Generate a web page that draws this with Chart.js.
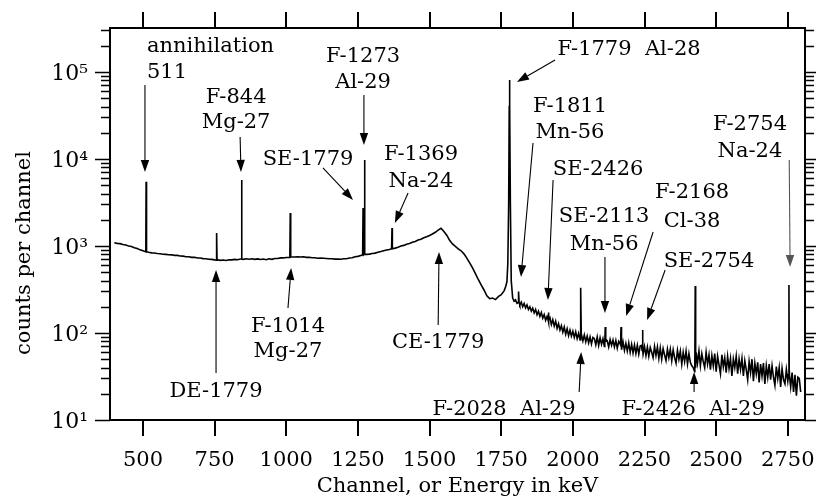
<!DOCTYPE html>
<html>
<head>
<meta charset="utf-8">
<script src="https://cdn.jsdelivr.net/npm/chart.js@4/dist/chart.umd.min.js"></script>
<style>
  html, body { margin: 0; padding: 0; background: #fff; }
  #wrap { width: 816px; height: 499px; position: relative; }
</style>
</head>
<body>
<div id="wrap"><canvas id="spectrum"></canvas></div>
<script>
// continuum, 400-1760 keV every 10 keV
const lowStart = 400, lowStep = 10;
const lowCounts = [
    1090, 1072, 1064, 1038, 1025, 1000, 988, 955, 934, 902,
    880, 858, 848, 834, 829, 818, 814, 804, 801, 793,
    791, 780, 779, 766, 764, 752, 751, 740, 741, 728,
    727, 715, 714, 703, 702, 692, 694, 684, 691, 682,
    694, 692, 702, 696, 709, 702, 714, 703, 713, 701,
    711, 699, 709, 696, 714, 702, 718, 717, 729, 729,
    738, 740, 746, 748, 753, 746, 751, 739, 741, 731,
    733, 722, 725, 724, 719, 714, 712, 707, 706, 704,
    712, 714, 728, 732, 752, 760, 778, 790, 800, 806,
    818, 828, 846, 862, 880, 898, 913, 928, 945, 966,
    1000, 1016, 1048, 1066, 1104, 1126, 1168, 1196, 1244, 1276,
    1320, 1372, 1436, 1520, 1598, 1470, 1330, 1160, 1055, 990,
    925, 880, 812, 725, 640, 560, 482, 412, 358, 312,
    268, 248, 252, 242, 262, 275, 305
];

// full-energy peak of 1779 keV
const mainPeakEnergy = [1766, 1770, 1773, 1776, 1778, 1779, 1780, 1782, 1785];
const mainPeakCounts = [345, 390, 620, 3000, 40000, 80900, 40000, 3000, 400];

// continuum, 1790-2795 keV every 5 keV
const highStart = 1790, highStep = 5;
const highCounts = [
    252, 232, 240, 219, 233, 210, 226, 200, 218, 194,
    210, 186, 200, 178, 193, 170, 186, 162, 178, 155,
    172, 148, 163, 140, 155, 132, 150, 125, 142, 120,
    137, 113, 128, 108, 121, 102, 117, 97, 112, 93,
    108, 92, 105, 89, 103, 86, 99, 83, 96, 81,
    95, 79, 92, 77, 90, 75, 89, 86, 73, 90,
    72, 88, 74, 86, 70, 85, 81, 69, 84, 72,
    83, 69, 82, 67, 80, 75, 64, 79, 63, 76,
    62, 77, 60, 74, 59, 73, 58, 72, 57, 71,
    72, 57, 70, 55, 69, 54, 68, 60, 52, 70,
    55, 69, 51, 67, 50, 66, 56, 48, 65, 52,
    65, 48, 64, 52, 45, 63, 50, 62, 44, 60,
    47, 62, 44, 58, 46, 42, 40, 36, 60, 45,
    62, 42, 58, 47, 40, 60, 44, 56, 38, 55,
    42, 58, 36, 54, 43, 34, 56, 41, 52, 35,
    54, 39, 51, 32, 50, 40, 54, 34, 50, 38,
    51, 32, 48, 38, 29, 47, 35, 50, 28, 45,
    34, 46, 27, 44, 32, 45, 26, 42, 31, 44,
    29, 42, 31, 25, 41, 30, 40, 24, 39, 29,
    26, 38, 28, 37, 24, 35, 21, 33, 19, 31,
    30, 21
];

// narrow lines on top of the continuum
const peakEnergy = [511, 757, 844, 1014, 1268, 1273, 1369, 1811, 1915, 2028, 2113, 2168, 2243, 2427, 2754];
const peakTop = [5480, 1410, 5740, 2390, 2740, 9750, 1610, 300, 172, 330, 117, 117, 108, 347, 356];
const peakFoot = [860, 688, 708, 748, 792, 800, 930, 224, 142, 90, 79, 73, 63, 40, 33];

const xTicks = [500, 750, 1000, 1250, 1500, 1750, 2000, 2250, 2500, 2750];
const yTicks = [10, 100, 1000, 10000, 100000];
const yTickLabels = ['10¹', '10²', '10³', '10⁴', '10⁵'];

// labels: x in keV, rows/arrow ends as log10(counts)
const notes = [
    {lines: ['annihilation', '511'], x: 514, y: [5.230, 4.931], align: 'left', from: [507, 4.851], to: [507, 3.851]},
    {lines: ['F-844', 'Mg-27'], x: 825, y: [4.644, 4.356], from: [839, 4.253], to: [842, 3.851]},
    {lines: ['SE-1779'], x: 1076, y: [3.931], from: [1128, 3.897], to: [1233, 3.529]},
    {lines: ['F-1273', 'Al-29'], x: 1268, y: [5.115, 4.816], from: [1271, 4.736], to: [1271, 4.161]},
    {lines: ['F-1369', 'Na-24'], x: 1470, y: [3.989, 3.678], from: [1425, 3.609], to: [1379, 3.264]},
    {lines: ['F-1779  Al-28'], x: 2196, y: [5.195], from: [1938, 5.138], to: [1805, 4.885]},
    {lines: ['F-1811', 'Mn-56'], x: 1990, y: [4.540, 4.241], from: [1861, 4.184], to: [1819, 2.644]},
    {lines: ['SE-2426'], x: 2088, y: [3.816], from: [1931, 3.759], to: [1913, 2.379]},
    {lines: ['F-2168', 'Cl-38'], x: 2416, y: [3.552, 3.218], from: [2280, 3.161], to: [2186, 2.195]},
    {lines: ['SE-2113', 'Mn-56'], x: 2109, y: [3.276, 2.954], from: [2112, 2.874], to: [2112, 2.230]},
    {lines: ['SE-2754'], x: 2475, y: [2.759], from: [2322, 2.724], to: [2259, 2.149]},
    {lines: ['F-2754', 'Na-24'], x: 2618, y: [4.333, 4.023], from: [2755, 3.989], to: [2758, 2.759], color: '#555'},
    {lines: ['DE-1779'], x: 755, y: [1.264], from: [755, 1.540], to: [755, 2.724]},
    {lines: ['F-1014', 'Mg-27'], x: 1006, y: [2.011, 1.724], from: [1006, 2.287], to: [1017, 2.747]},
    {lines: ['CE-1779'], x: 1530, y: [1.828], from: [1530, 2.092], to: [1533, 2.931]},
    {lines: ['F-2028  Al-29'], x: 1760, y: [1.057], from: [2022, 1.322], to: [2029, 1.782]},
    {lines: ['F-2426  Al-29'], x: 2420, y: [1.057], from: [2423, 1.322], to: [2423, 1.552]}
];

const FONT = '"DejaVu Serif", serif';

const points = [];
lowCounts.forEach((c, i) => points.push({x: lowStart + i * lowStep, y: c}));
mainPeakEnergy.forEach((e, i) => points.push({x: e, y: mainPeakCounts[i]}));
highCounts.forEach((c, i) => points.push({x: highStart + i * highStep, y: c}));
peakEnergy.forEach((e, i) => {
    points.push({x: e - 1.5, y: peakFoot[i]}, {x: e, y: peakTop[i]}, {x: e + 1.5, y: peakFoot[i]});
});
points.sort((a, b) => a.x - b.x);

function drawArrow(ctx, x1, y1, x2, y2, color) {
    const a = Math.atan2(y2 - y1, x2 - x1);
    const len = 12, half = 4.2;
    const bx = x2 - len * Math.cos(a), by = y2 - len * Math.sin(a);
    ctx.strokeStyle = color;
    ctx.fillStyle = color;
    ctx.lineWidth = 1.1;
    ctx.beginPath();
    ctx.moveTo(x1, y1);
    ctx.lineTo(bx, by);
    ctx.stroke();
    ctx.beginPath();
    ctx.moveTo(x2, y2);
    ctx.lineTo(bx + half * Math.sin(a), by - half * Math.cos(a));
    ctx.lineTo(bx - half * Math.sin(a), by + half * Math.cos(a));
    ctx.closePath();
    ctx.fill();
}

const framePlugin = {
    id: 'frameAndNotes',
    afterDraw(chart) {
        const ctx = chart.ctx;
        const xs = chart.scales.x, ys = chart.scales.y;
        const area = chart.chartArea;
        const px = e => xs.getPixelForValue(e);
        const py = p => ys.getPixelForValue(Math.pow(10, p));

        ctx.save();
        ctx.strokeStyle = '#000';
        ctx.lineWidth = 2;
        ctx.strokeRect(area.left, area.top, area.right - area.left, area.bottom - area.top);

        ctx.beginPath();
        xTicks.forEach(v => {
            const x = Math.round(px(v));
            ctx.moveTo(x, area.bottom);
            ctx.lineTo(x, area.bottom + 16);
            ctx.moveTo(x, area.top);
            ctx.lineTo(x, area.top - 16);
        });
        ctx.stroke();

        ctx.lineWidth = 1.5;
        ctx.beginPath();
        for (let d = 1; d <= 5; d++) {
            for (let m = 1; m <= 9; m++) {
                const v = m * Math.pow(10, d);
                if (v > ys.max) break;
                const y = Math.round(ys.getPixelForValue(v)) + 0.5;
                const len = m === 1 ? 15 : 9;
                ctx.moveTo(area.left - len, y);
                ctx.lineTo(area.left, y);
                ctx.moveTo(area.right, y);
                ctx.lineTo(area.right + len, y);
            }
        }
        ctx.stroke();

        ctx.fillStyle = '#000';
        ctx.font = '21px ' + FONT;
        ctx.textBaseline = 'alphabetic';
        ctx.textAlign = 'center';
        ctx.fillText('Channel, or Energy in keV', (area.left + area.right) / 2, 492);
        ctx.save();
        ctx.translate(30, 253);
        ctx.rotate(-Math.PI / 2);
        ctx.fillText('counts per channel', 0, 0);
        ctx.restore();

        notes.forEach(n => {
            ctx.fillStyle = '#000';
            ctx.textAlign = n.align || 'center';
            n.lines.forEach((t, i) => ctx.fillText(t, px(n.x), py(n.y[i])));
            drawArrow(ctx, px(n.from[0]), py(n.from[1]), px(n.to[0]), py(n.to[1]), n.color || '#000');
        });
        ctx.restore();
    }
};

new Chart(document.getElementById('spectrum'), {
    type: 'line',
    data: {
        datasets: [{
            data: points,
            borderColor: '#000',
            borderWidth: 1.6,
            pointRadius: 0,
            fill: false,
            tension: 0
        }]
    },
    options: {
        responsive: true,
        maintainAspectRatio: false,
        animation: false,
        layout: {padding: {top: 28, right: 11, left: 0, bottom: 0}},
        plugins: {
            legend: {display: false},
            tooltip: {enabled: false}
        },
        scales: {
            x: {
                type: 'linear',
                min: 385,
                max: 2810,
                afterBuildTicks: scale => { scale.ticks = xTicks.map(v => ({value: v})); },
                afterFit: scale => {
                    scale.height = 79;
                    scale.paddingLeft = 0;
                    scale.paddingRight = 0;
                },
                grid: {display: false, drawTicks: false},
                border: {display: false},
                ticks: {
                    color: '#000',
                    font: {family: FONT, size: 21},
                    padding: 28,
                    maxRotation: 0,
                    autoSkip: false,
                    callback: value => String(value)
                }
            },
            y: {
                type: 'logarithmic',
                min: 10,
                max: 320000,
                afterBuildTicks: scale => { scale.ticks = yTicks.map(v => ({value: v})); },
                afterFit: scale => {
                    scale.width = 110;
                    scale.paddingTop = 0;
                    scale.paddingBottom = 0;
                },
                grid: {display: false, drawTicks: false},
                border: {display: false},
                ticks: {
                    color: '#000',
                    font: {family: FONT, size: 22},
                    padding: 22,
                    labelOffset: 2,
                    autoSkip: false,
                    callback: value => yTickLabels[yTicks.indexOf(value)]
                }
            }
        }
    },
    plugins: [framePlugin]
});
</script>
</body>
</html>
